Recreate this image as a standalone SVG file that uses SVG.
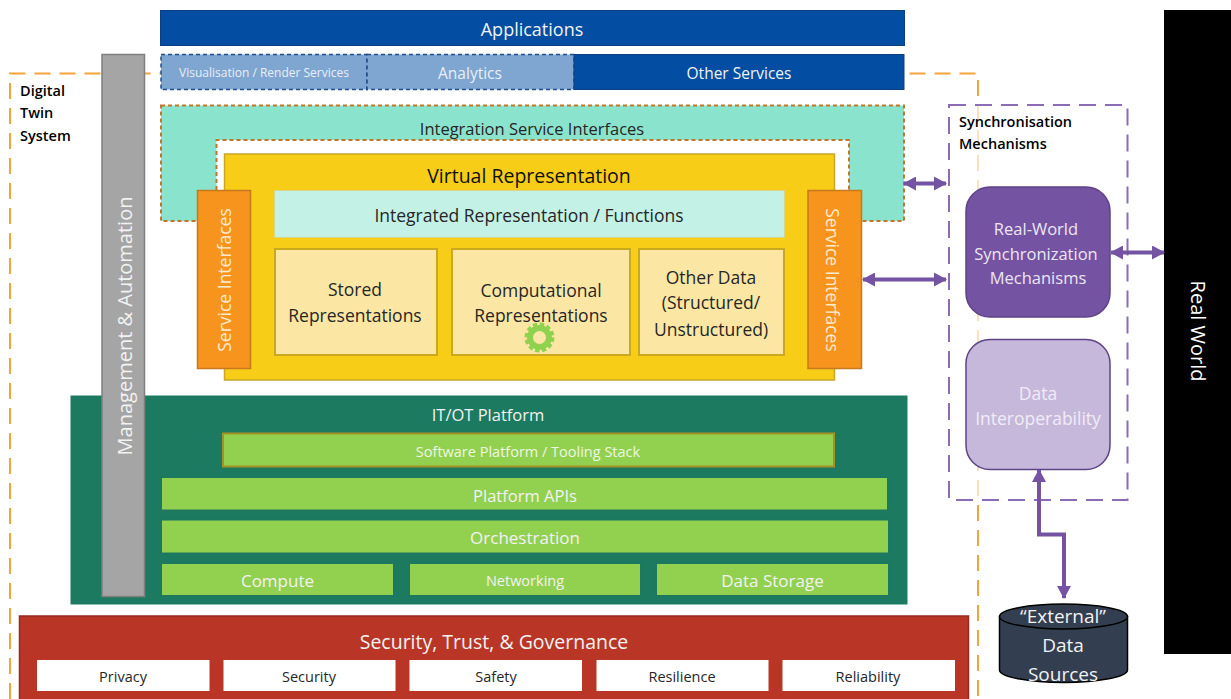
<svg xmlns="http://www.w3.org/2000/svg" width="1231" height="699" viewBox="0 0 1231 699">
<defs>
<style>
text{font-family:"Open Sans","Noto Sans","Liberation Sans",sans-serif;text-anchor:middle;dominant-baseline:central}
.w{fill:#fff}.wf{fill:#f2f2f2}.k{fill:#262626}.b{fill:#000;font-weight:600;text-anchor:start;font-size:14.5px}
.green{fill:#92d050;stroke:#1e7860;stroke-width:2}
.cream{fill:#fbe7a3;stroke:#c9a91f;stroke-width:2}
.white{fill:#fff}
.arrow{fill:none;stroke:#7453a2;stroke-width:4;marker-start:url(#ah);marker-end:url(#ah)}
</style>
<marker id="ah" markerUnits="userSpaceOnUse" markerWidth="14" markerHeight="14" refX="12" refY="7" orient="auto-start-reverse"><path d="M0,0L13,7L0,14Z" fill="#7453a2"/></marker>
</defs>
<rect width="1231" height="699" fill="#fff"/>
<g id="digital-twin-system">
<path d="M10,699V73.500H978V699" fill="none" stroke="#f6a33c" stroke-width="2" stroke-dasharray="16 9"/>
<text class="b" x="20" y="90">Digital</text><text class="b" x="20" y="112">Twin</text><text class="b" x="20" y="135">System</text>
</g>
<g id="real-world"><rect x="1164" y="10" width="67" height="644" fill="#000"/><text class="w" font-size="20" transform="translate(1198 331) rotate(90)">Real World</text></g>
<g id="applications"><rect x="160.500" y="10.500" width="744" height="35" fill="#034ea2" stroke="#0a4080"/><text class="wf" x="532" y="29" font-size="18">Applications</text></g>
<g id="visualisation"><rect x="161" y="54.500" width="206" height="35" fill="#7fa5d1" stroke="#1d4f8f" stroke-width="1.500" stroke-dasharray="4 3"/><text fill="#e8eff7" x="264" y="72" font-size="12">Visualisation / Render Services</text></g>
<g id="analytics"><rect x="367" y="54.500" width="207" height="35" fill="#7fa5d1" stroke="#1d4f8f" stroke-width="1.500" stroke-dasharray="4 3"/><text fill="#e8eff7" x="470" y="72.500" font-size="15.500">Analytics</text></g>
<g id="other-services"><rect x="574" y="54.500" width="330" height="35" fill="#034ea2" stroke="#0a4080"/><text class="wf" x="739" y="72.500" font-size="15.500">Other Services</text></g>
<g id="integration-service-interfaces">
<path d="M161,105.500H904V221H849V140H216.500V221H161Z" fill="#8ae4cd" stroke="#c0762c" stroke-width="2" stroke-dasharray="4 3"/>
<text class="k" x="532" y="128" font-size="16.500">Integration Service Interfaces</text></g>
<g id="virtual-representation"><rect x="224.500" y="154" width="610" height="226" fill="#f7cd17" stroke="#c9a628" stroke-width="1.500"/><text fill="#111" x="529" y="175" font-size="19.500">Virtual Representation</text></g>
<g id="integrated-representation"><rect x="274.500" y="190.500" width="510" height="47" fill="#c3f1e5" stroke="#d8d48a"/><text class="k" x="529" y="215" font-size="17.500">Integrated Representation / Functions</text></g>
<g id="stored-representations"><rect x="275" y="249" width="162" height="106" class="cream"/><text class="k" x="355" y="289" font-size="17.500">Stored</text><text class="k" x="355" y="315" font-size="17.500">Representations</text></g>
<g id="computational-representations"><rect x="452" y="249" width="178" height="106" class="cream"/><text class="k" x="541" y="289.500" font-size="17.500">Computational</text><text class="k" x="541" y="315" font-size="17.500">Representations</text>
<circle cx="539.500" cy="337.500" r="9.500" fill="none" stroke="#8ed24f" stroke-width="6"/><circle cx="539.500" cy="337.500" r="13" fill="none" stroke="#8ed24f" stroke-width="4" stroke-dasharray="4.200 2.600"/></g>
<g id="other-data"><rect x="639" y="249" width="145" height="106" class="cream"/><text class="k" x="711" y="277" font-size="17.500">Other Data</text><text class="k" x="711" y="302" font-size="17.500">(Structured/</text><text class="k" x="711" y="329" font-size="17.500">Unstructured)</text></g>
<g id="service-interfaces-left"><rect x="197.500" y="190.500" width="53" height="178" fill="#f7941d" stroke="#c77a1c" stroke-width="1.500"/><text fill="#fdebd0" font-size="17.500" transform="translate(224 280) rotate(-90)">Service Interfaces</text></g>
<g id="service-interfaces-right"><rect x="808" y="190.500" width="53.500" height="178" fill="#f7941d" stroke="#c77a1c" stroke-width="1.500"/><text fill="#fdebd0" font-size="17.500" transform="translate(833 280) rotate(90)">Service Interfaces</text></g>
<g id="it-ot-platform"><rect x="70.500" y="395.500" width="837" height="209" fill="#1c7a60"/><text class="wf" x="488" y="414" font-size="16.500">IT/OT Platform</text></g>
<g id="software-platform"><rect x="223" y="433.500" width="611" height="33" fill="#92d050" stroke="#a59124" stroke-width="2"/><text fill="#eef7e2" x="528" y="451" font-size="14.500">Software Platform / Tooling Stack</text></g>
<g id="platform-apis"><rect x="161" y="477" width="727" height="33.500" class="green"/><text class="wf" x="525" y="495" font-size="16.500">Platform APIs</text></g>
<g id="orchestration"><rect x="161" y="519.500" width="728" height="34" class="green"/><text class="wf" x="525" y="537" font-size="17">Orchestration</text></g>
<g id="compute"><rect x="161" y="563" width="233" height="33" class="green"/><text class="wf" x="277.500" y="580.500" font-size="17">Compute</text></g>
<g id="networking"><rect x="409" y="563" width="232" height="33" class="green"/><text class="wf" x="525" y="580.500" font-size="14.500">Networking</text></g>
<g id="data-storage"><rect x="656" y="563" width="233" height="33" class="green"/><text class="wf" x="772.500" y="580.500" font-size="17">Data Storage</text></g>
<g id="management-automation"><rect x="102" y="54.500" width="42.500" height="542" fill="#a5a5a5" stroke="#7f7f7f" stroke-width="1.500"/><text class="wf" font-size="20" transform="translate(124 326) rotate(-90)">Management &amp; Automation</text></g>
<g id="security-trust-governance"><rect x="19.500" y="616" width="949" height="90" fill="#b93626" stroke="#962b20" stroke-width="1.500"/><text class="wf" x="494" y="641" font-size="19.500">Security, Trust, &amp; Governance</text></g>
<g id="privacy"><rect x="37" y="660" width="172.500" height="31" class="white"/><text class="k" x="123" y="676.500" font-size="14.500">Privacy</text></g>
<g id="security"><rect x="223.500" y="660" width="172" height="31" class="white"/><text class="k" x="309" y="676.500" font-size="14.500">Security</text></g>
<g id="safety"><rect x="409.500" y="660" width="172.500" height="31" class="white"/><text class="k" x="496" y="676.500" font-size="14.500">Safety</text></g>
<g id="resilience"><rect x="596.500" y="660" width="172" height="31" class="white"/><text class="k" x="682" y="676.500" font-size="14.500">Resilience</text></g>
<g id="reliability"><rect x="782.500" y="660" width="172.500" height="31" class="white"/><text class="k" x="868" y="676.500" font-size="14.500">Reliability</text></g>
<g id="synchronisation-mechanisms"><rect x="949" y="105" width="178.500" height="395" fill="#fff" fill-opacity="0.650" stroke="#8c6db5" stroke-width="2" stroke-dasharray="17 9"/>
<text class="b" x="959" y="121">Synchronisation</text><text class="b" x="959" y="143">Mechanisms</text></g>
<g id="real-world-sync"><rect x="966" y="187" width="144" height="130" rx="24" fill="#7453a2" stroke="#5d4486" stroke-width="1.500"/><text fill="#ece6f3" x="1036" y="228" font-size="16.500">Real-World</text><text fill="#ece6f3" x="1036" y="253" font-size="16.500">Synchronization</text><text fill="#ece6f3" x="1038" y="277" font-size="16.500">Mechanisms</text></g>
<g id="data-interoperability"><rect x="966" y="339.500" width="144" height="130" rx="24" fill="#c6b8db" stroke="#5d4486" stroke-width="1.500"/><text fill="#f0ecf6" x="1038" y="393" font-size="17.500">Data</text><text fill="#f0ecf6" x="1038" y="418" font-size="17.500">Interoperability</text></g>
<g id="external-data-sources"><path d="M999.500,616.500V670A64,12.500 0 0 0 1127.500,670V616.500Z" fill="#333f50" stroke="#000" stroke-width="1.500"/><ellipse cx="1063.500" cy="616.500" rx="64" ry="12.500" fill="#333f50" stroke="#000" stroke-width="1.500"/><text fill="#f2f2f2" x="1063" y="616" font-size="19">“External”</text><text fill="#f2f2f2" x="1063" y="645" font-size="19">Data</text><text fill="#f2f2f2" x="1063" y="674" font-size="19">Sources</text></g>
<g id="connectors">
<path class="arrow" d="M904,183.500H946"/>
<path class="arrow" d="M863,279.500H946"/>
<path class="arrow" d="M1111,252.500H1164"/>
<path class="arrow" d="M1039,470V534.500H1064V598"/>
</g>
</svg>
